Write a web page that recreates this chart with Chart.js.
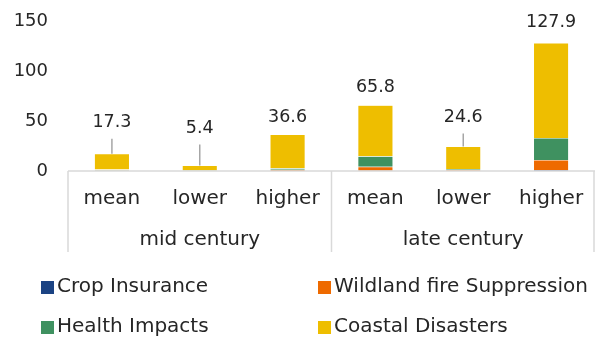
<!DOCTYPE html>
<html>
<head>
<meta charset="utf-8">
<script src="https://cdn.jsdelivr.net/npm/chart.js@4"></script>
<style>
  html, body { margin: 0; padding: 0; background: #fff; }
  #wrap { position: relative; width: 595px; height: 341px; }
</style>
</head>
<body>
<div id="wrap"><canvas id="costs"></canvas></div>
<script>
var FONT = "'Century Gothic', 'DejaVu Sans', sans-serif";

// scenarios along the x axis, grouped by period
var scenarios = ["mean", "lower", "higher", "mean", "lower", "higher"];
var periods = ["mid century", "late century"];
var yTicks = [0, 50, 100, 150];

// cost components per scenario
var cropInsurance = [0.1, 0.0, 0.1, 0.3, 0.1, 0.9];
var wildfire = [0.3, 0.1, 1.2, 4.0, 0.8, 10.2];
var healthImpacts = [1.0, 0.3, 1.5, 10.5, 1.0, 21.8];
var coastalDisasters = [15.9, 5.0, 33.8, 51.0, 22.7, 95.0];

// totals printed over each stack
var totals = [17.3, 5.4, 36.6, 65.8, 24.6, 127.9];
// how far the total sits above the bar (px); long lifts get a leader line
var labelLift = [31, 37, 17, 18, 29, 21];

var seriesNames = ["Crop Insurance", "Wildland fire Suppression", "Health Impacts", "Coastal Disasters"];
var seriesColors = ["#1B4383", "#EE6A00", "#3F9160", "#EEBE00"];
var seriesData = [cropInsurance, wildfire, healthImpacts, coastalDisasters];

var datasets = seriesNames.map(function (name, i) {
  return {
    label: name,
    data: seriesData[i],
    backgroundColor: seriesColors[i],
    borderColor: "rgba(255,255,255,0.35)",
    borderWidth: 0.5,
    barPercentage: 0.8,
    categoryPercentage: 0.5
  };
});

var gridGray = "#D9D9D9";
var textColor = "#262626";

// totals with leader lines, the grouped category box, and a two-column legend
var decorations = {
  id: "decorations",
  afterDatasetsDraw: function (chart) {
    var ctx = chart.ctx;
    var x = chart.scales.x, y = chart.scales.y;
    ctx.save();
    ctx.font = "17.5px " + FONT;
    ctx.textAlign = "center";
    ctx.textBaseline = "middle";
    totals.forEach(function (t, i) {
      var cx = x.getPixelForValue(i);
      var top = y.getPixelForValue(t);
      var ly = top - labelLift[i];
      if (labelLift[i] > 24) {
        ctx.strokeStyle = "#A6A6A6";
        ctx.lineWidth = 1.5;
        ctx.beginPath();
        ctx.moveTo(cx, ly + 16);
        ctx.lineTo(cx, top);
        ctx.stroke();
      }
      ctx.fillStyle = textColor;
      ctx.fillText(t.toFixed(1), cx, ly);
    });
    ctx.restore();
  },
  afterDraw: function (chart) {
    var ctx = chart.ctx;
    var area = chart.chartArea;
    var x = chart.scales.x;
    var base = area.bottom;
    var boxBottom = base + 81;
    ctx.save();
    ctx.strokeStyle = gridGray;
    ctx.lineWidth = 1.5;
    ctx.beginPath();
    ctx.moveTo(area.left, base);
    ctx.lineTo(area.right, base);
    var per = scenarios.length / periods.length;
    for (var g = 0; g <= periods.length; g++) {
      var gx = g === 0 ? area.left : (g === periods.length ? area.right - 1 : (x.getPixelForValue(g * per - 1) + x.getPixelForValue(g * per)) / 2);
      ctx.moveTo(gx, base);
      ctx.lineTo(gx, boxBottom);
    }
    ctx.stroke();

    ctx.fillStyle = textColor;
    ctx.font = "20px " + FONT;
    ctx.textAlign = "center";
    ctx.textBaseline = "middle";
    periods.forEach(function (p, g) {
      var a = x.getPixelForValue(g * per), b = x.getPixelForValue(g * per + per - 1);
      ctx.fillText(p, (a + b) / 2, base + 69);
    });

    // legend, two columns
    ctx.textAlign = "left";
    var cols = [41, 318], rows = [287, 327];
    seriesNames.forEach(function (name, i) {
      var cx = cols[i % 2], cy = rows[Math.floor(i / 2)];
      ctx.fillStyle = seriesColors[i];
      ctx.fillRect(cx, cy - 6, 13, 13);
      ctx.fillStyle = textColor;
      ctx.fillText(name, cx + 16, cy);
    });
    ctx.restore();
  }
};

new Chart(document.getElementById("costs"), {
  type: "bar",
  data: { labels: scenarios, datasets: datasets },
  options: {
    responsive: true,
    maintainAspectRatio: false,
    animation: false,
    layout: { padding: { top: 21, right: 0, bottom: 80, left: 0 } },
    plugins: {
      legend: { display: false },
      tooltip: { enabled: false }
    },
    scales: {
      x: {
        stacked: true,
        grid: { display: false, drawTicks: false },
        border: { display: false },
        ticks: { color: textColor, font: { family: FONT, size: 20 }, padding: 16, maxRotation: 0 },
        afterFit: function (s) { s.height = 90; s.paddingLeft = 0; s.paddingRight = 0; }
      },
      y: {
        stacked: true,
        min: 0,
        max: 150,
        afterBuildTicks: function (s) { s.ticks = yTicks.map(function (v) { return { value: v }; }); },
        grid: { display: false, drawTicks: false },
        border: { display: false },
        ticks: { color: textColor, font: { family: FONT, size: 18 }, padding: 20 },
        afterFit: function (s) { s.width = 68; s.paddingTop = 0; s.paddingBottom = 0; }
      }
    }
  },
  plugins: [decorations]
});
</script>
</body>
</html>
